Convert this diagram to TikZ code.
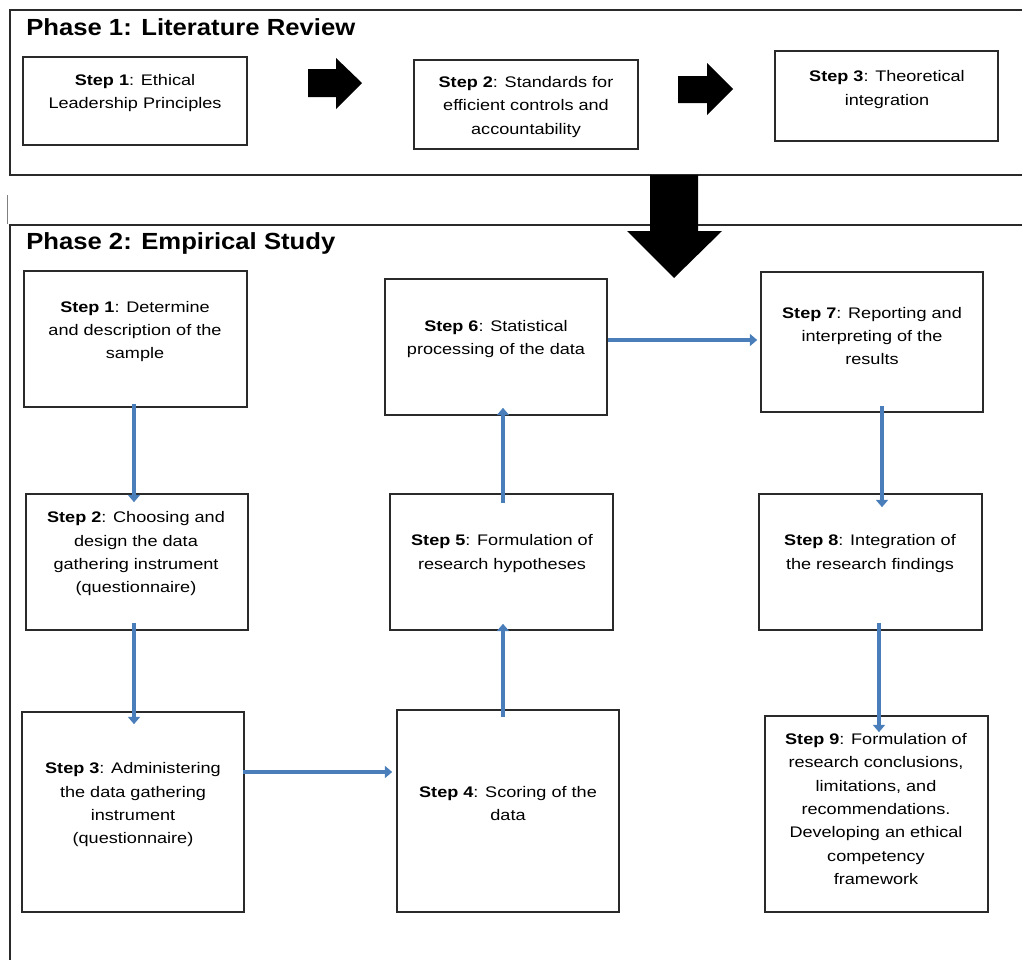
\documentclass[tikz,border=0pt]{standalone}
\usepackage{fontspec}
\setmainfont{Liberation Sans}[FakeStretch=1.18]
\newfontfamily\titlefont{Liberation Sans}[FakeStretch=1.1]
\usetikzlibrary{arrows.meta,fit}
\definecolor{flowblue}{HTML}{4A7EBB}
\definecolor{framegray}{HTML}{2A2A2A}
\tikzset{
  stepbox/.style={draw=framegray,line width=1.2pt,inner sep=0pt},
  steptext/.style={align=center,font=\fontsize{11.5pt}{17.5pt}\selectfont,inner sep=0pt},
  phasetitle/.style={anchor=base west,inner sep=0pt,font=\titlefont\bfseries\fontsize{17.5pt}{20pt}\selectfont},
  frameline/.style={draw=framegray,line width=1.2pt},
  flow/.style={draw=flowblue,line width=3pt,-{Triangle[length=5.5pt,width=9pt]}},
  block/.style={fill=black}
}
\begin{document}
\begin{tikzpicture}[x=0.75pt,y=-0.75pt]
\useasboundingbox (0,0) rectangle (1022,960);

% phase frames
\draw[frameline] (1022,10) -- (10,10) -- (10,175) -- (1022,175);
\draw[frameline] (1022,225) -- (10,225) -- (10,960);
\draw[draw=gray,line width=0.8pt] (7.5,195) -- (7.5,224);

\node[phasetitle] (t1) at (26,35.5) {Phase 1: Literature Review};
\node[phasetitle] (t2) at (26,249.5) {Phase 2: Empirical Study};

% phase 1 steps
\node[stepbox,fit={(23,57)(247,145)}] (a1) {};
\node[stepbox,fit={(414,60)(638,149)}] (a2) {};
\node[stepbox,fit={(775,51)(998,141)}] (a3) {};
\node[steptext] (ta1) at (135,93) {\textbf{Step 1}: Ethical\\Leadership Principles};
\node[steptext] (ta2) at (526,107) {\textbf{Step 2}: Standards for\\efficient controls and\\accountability};
\node[steptext] (ta3) at (887,89.5) {\textbf{Step 3}: Theoretical\\integration};

% block arrows
\fill[block] (308,69) -- (336,69) -- (336,58) -- (362,83) -- (336,109) -- (336,97) -- (308,97) -- cycle;
\fill[block] (678,76) -- (707,76) -- (707,63) -- (733,89) -- (707,115) -- (707,103) -- (678,103) -- cycle;
\fill[block] (650,175) -- (698,175) -- (698,231) -- (722,231) -- (674,278) -- (627,231) -- (650,231) -- cycle;

% phase 2 steps
\node[stepbox,fit={(24,271)(247,407)}] (s1) {};
\node[stepbox,fit={(26,494)(248,630)}] (s2) {};
\node[stepbox,fit={(22,712)(244,912)}] (s3) {};
\node[stepbox,fit={(397,710)(619,912)}] (s4) {};
\node[stepbox,fit={(390,494)(613,630)}] (s5) {};
\node[stepbox,fit={(385,279)(607,415)}] (s6) {};
\node[stepbox,fit={(761,272)(983,412)}] (s7) {};
\node[stepbox,fit={(759,494)(982,630)}] (s8) {};
\node[stepbox,fit={(765,716)(988,912)}] (s9) {};

\node[steptext] (ts1) at (135,331.5) {\textbf{Step 1}: Determine\\and description of the\\sample};
\node[steptext] (ts2) at (136,554) {\textbf{Step 2}: Choosing and\\design the data\\gathering instrument\\(questionnaire)};
\node[steptext] (ts3) at (133,805) {\textbf{Step 3}: Administering\\the data gathering\\instrument\\(questionnaire)};
\node[steptext] (ts4) at (508,803.5) {\textbf{Step 4}: Scoring of the\\data};
\node[steptext] (ts5) at (502,553.5) {\textbf{Step 5}: Formulation of\\research hypotheses};
\node[steptext] (ts6) at (496,339) {\textbf{Step 6}: Statistical\\processing of the data};
\node[steptext] (ts7) at (872,336) {\textbf{Step 7}: Reporting and\\interpreting of the\\results};
\node[steptext] (ts8) at (870,553.5) {\textbf{Step 8}: Integration of\\the research findings};
\node[steptext] (ts9) at (876,809) {\textbf{Step 9}: Formulation of\\research conclusions,\\limitations, and\\recommendations.\\Developing an ethical\\competency\\framework};

% flow connectors
\draw[flow] ([shift={(-1.5,-4)}]s1.south) -- ([shift={(-3,9)}]s2.north);
\draw[flow] ([shift={(-3,-8)}]s2.south) -- ([shift={(1,13)}]s3.north);
\draw[flow] ([shift={(-2,-40)}]s3.east) -- ([shift={(-4,-39)}]s4.west);
\draw[flow] ([shift={(-5,8)}]s4.north) -- ([shift={(1.5,-7)}]s5.south);
\draw[flow] ([shift={(1.5,10)}]s5.north) -- ([shift={(7,-8)}]s6.south);
\draw[flow] ([shift={(0,-7)}]s6.east) -- ([shift={(-3,-2)}]s7.west);
\draw[flow] ([shift={(10,-7)}]s7.south) -- ([shift={(11.5,14)}]s8.north);
\draw[flow] ([shift={(8.5,-8)}]s8.south) -- ([shift={(2.5,17)}]s9.north);
\end{tikzpicture}
\end{document}
